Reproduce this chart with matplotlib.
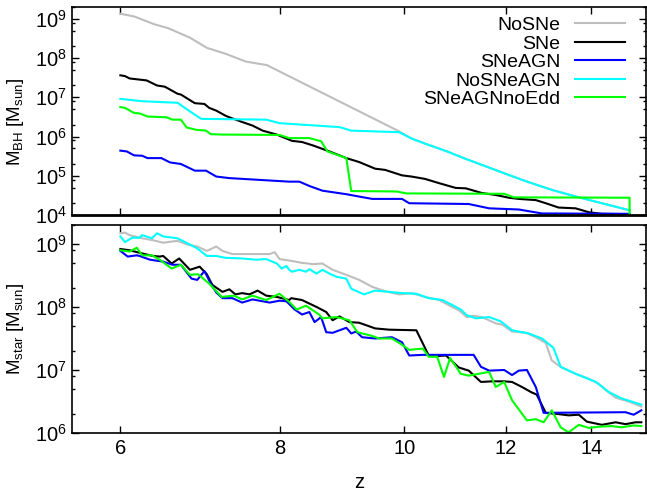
import numpy as np
import matplotlib
matplotlib.use("Agg")
import matplotlib.pyplot as plt
from matplotlib.ticker import FixedLocator, NullLocator, LogLocator, FixedFormatter

plt.rcParams['font.family'] = ['Liberation Sans', 'DejaVu Sans']
plt.rcParams['mathtext.fontset'] = 'custom'
plt.rcParams['mathtext.rm'] = 'Liberation Sans'
plt.rcParams['mathtext.it'] = 'Liberation Sans:italic'
plt.rcParams['font.size'] = 14

# black hole mass vs redshift (log10 of M_BH / M_sun)
z_bh_nosne = [6.00, 6.15, 6.38, 6.54, 6.80, 7.01, 7.25, 7.52, 7.81, 9.91, 10.13, 10.38,
              10.78, 11.17, 11.58, 12.07, 12.45, 13.04, 13.69, 14.27, 15.00]
lg_bh_nosne = [9.13, 9.06, 8.86, 8.76, 8.52, 8.26, 8.11, 7.91, 7.82, 6.13, 5.95, 5.82,
               5.63, 5.43, 5.24, 5.02, 4.86, 4.64, 4.45, 4.30, 4.12]

z_bh_sne = [6.00, 6.05, 6.10, 6.29, 6.41, 6.50, 6.65, 6.69, 6.86, 6.98, 7.04, 7.13, 7.25,
            7.30, 7.47, 7.61, 7.75, 7.95, 8.17, 8.32, 8.49, 8.74, 9.01, 9.22, 9.49, 9.66,
            9.96, 10.13, 10.38, 10.65, 10.97, 11.17, 11.50, 11.79, 12.07, 12.29, 12.67,
            12.90, 13.20, 13.61, 13.94, 14.27, 15.00]
lg_bh_sne = [7.56, 7.54, 7.48, 7.43, 7.30, 7.27, 7.09, 7.07, 6.85, 6.83, 6.73, 6.66, 6.53,
             6.49, 6.37, 6.28, 6.15, 6.05, 5.89, 5.86, 5.77, 5.62, 5.45, 5.35, 5.18, 5.15,
             5.01, 4.98, 4.92, 4.81, 4.69, 4.68, 4.56, 4.51, 4.44, 4.41, 4.38,
             4.30, 4.19, 4.17, 4.07, 4.03, 4.02]

z_bh_sneagn = [6.00, 6.07, 6.15, 6.24, 6.30, 6.46, 6.56, 6.69, 6.86, 7.00, 7.13, 7.30, 8.13,
               8.28, 8.43, 8.63, 9.01, 9.22, 9.44, 9.96, 10.09, 11.23, 11.65, 12.29, 12.81, 15.00]
lg_bh_sneagn = [5.64, 5.62, 5.52, 5.51, 5.45, 5.45, 5.34, 5.30, 5.13, 5.13, 4.98, 4.94, 4.85,
                4.85, 4.74, 4.62, 4.53, 4.47, 4.41, 4.41, 4.30, 4.28, 4.17, 4.14, 4.04, 4.03]

z_bh_nosneagn = [6.00, 6.24, 6.65, 6.80, 6.94, 7.80, 7.99, 8.90, 9.09, 9.91, 10.13, 10.38,
                 10.78, 11.17, 11.58, 12.07, 12.45, 13.04, 13.69, 14.27, 15.00]
lg_bh_nosneagn = [6.96, 6.90, 6.86, 6.64, 6.45, 6.43, 6.34, 6.24, 6.15, 6.11, 5.95, 5.82,
                  5.63, 5.43, 5.24, 5.02, 4.86, 4.64, 4.45, 4.30, 4.12]

z_bh_noedd = [6.00, 6.05, 6.15, 6.21, 6.30, 6.52, 6.59, 6.69, 6.76, 6.88, 7.00, 7.06, 7.21,
              7.99, 8.13, 8.43, 8.61, 8.71, 9.01, 9.09, 9.86, 10.04, 11.97, 12.18, 15.00, 15.00]
lg_bh_noedd = [6.75, 6.73, 6.60, 6.59, 6.51, 6.49, 6.43, 6.43, 6.23, 6.17, 6.15, 6.06, 6.05,
               6.04, 5.96, 5.96, 5.88, 5.62, 5.45, 4.61, 4.60, 4.55, 4.54, 4.45, 4.44, 4.02]

# stellar mass vs redshift (log10 of M_star / M_sun)
z_st_nosne = [6.00, 6.05, 6.10, 6.24, 6.36, 6.48, 6.65, 6.77, 6.89, 7.01, 7.13, 7.21, 7.34,
              7.85, 7.92, 7.99, 8.17, 8.32, 8.49, 8.63, 8.79, 9.01, 9.22, 9.44, 9.66, 9.91,
              10.13, 10.38, 10.65, 10.90, 11.03, 11.19, 11.33, 11.50, 11.79, 11.93, 12.14,
              12.45, 12.67, 12.90, 13.04, 13.27, 13.61, 13.94, 14.19, 14.37, 14.63, 14.97, 15.32]
lg_st_nosne = [9.17, 9.18, 9.14, 9.09, 9.06, 9.02, 9.05, 8.99, 8.96, 8.89, 8.96, 8.89, 8.84,
               8.84, 8.87, 8.76, 8.73, 8.70, 8.68, 8.69, 8.59, 8.51, 8.43, 8.32, 8.25, 8.20,
               8.22, 8.16, 8.11, 8.00, 7.95, 7.84, 7.86, 7.84, 7.74, 7.72, 7.61,
               7.59, 7.52, 7.43, 7.15, 7.04, 6.94, 6.86, 6.78, 6.68, 6.56, 6.50, 6.42]

z_st_sne = [6.00, 6.10, 6.24, 6.36, 6.44, 6.48, 6.58, 6.67, 6.80, 6.92, 7.01, 7.08, 7.21,
            7.30, 7.38, 7.47, 7.57, 7.68, 7.80, 7.95, 8.13, 8.16, 8.32, 8.54, 8.69, 8.79,
            8.90, 9.06, 9.22, 9.49, 9.73, 10.22, 10.45, 10.59, 10.78, 11.03, 11.23, 11.48,
            11.71, 11.97, 12.14, 12.36, 12.56, 12.69, 12.90, 13.20, 13.44, 13.69, 13.89,
            14.27, 14.63, 14.89, 15.16, 15.32]
lg_st_sne = [8.92, 8.90, 8.85, 8.81, 8.80, 8.81, 8.69, 8.77, 8.59, 8.64, 8.52, 8.35, 8.24,
             8.28, 8.20, 8.22, 8.20, 8.26, 8.18, 8.16, 8.11, 8.14, 8.11, 8.00, 7.92, 7.79,
             7.85, 7.76, 7.75, 7.66, 7.64, 7.63, 7.23, 7.22, 7.23, 7.04, 6.99, 6.81,
             6.82, 6.82, 6.81, 6.73, 6.65, 6.61, 6.32, 6.30, 6.28, 6.29, 6.18,
             6.13, 6.17, 6.14, 6.17, 6.17]

z_st_sneagn = [6.00, 6.08, 6.18, 6.21, 6.33, 6.48, 6.59, 6.69, 6.82, 6.89, 6.98, 7.06, 7.13,
               7.21, 7.34, 7.47, 7.61, 7.85, 7.99, 8.09, 8.21, 8.32, 8.43, 8.51, 8.61, 8.69,
               8.79, 9.01, 9.09, 9.17, 9.27, 9.49, 9.78, 9.96, 10.09, 10.34, 11.33, 11.48,
               11.65, 11.97, 12.14, 12.29, 12.47, 12.67, 12.85, 14.89, 15.11, 15.32]
lg_st_sneagn = [8.89, 8.80, 8.82, 8.81, 8.75, 8.72, 8.67, 8.67, 8.45, 8.43, 8.57, 8.37, 8.23,
                8.14, 8.14, 8.07, 8.12, 8.07, 8.10, 8.09, 7.96, 7.88, 7.92, 7.76, 7.84, 7.60,
                7.59, 7.67, 7.58, 7.61, 7.52, 7.50, 7.52, 7.44, 7.23, 7.24, 7.24, 7.05,
                6.99, 7.00, 6.92, 6.99, 7.00, 6.73, 6.32, 6.33, 6.29, 6.36]

z_st_nosneagn = [6.00, 6.05, 6.13, 6.21, 6.24, 6.35, 6.41, 6.48, 6.65, 6.77, 6.89, 7.01, 7.13,
                 7.25, 7.47, 7.66, 7.80, 7.95, 8.02, 8.09, 8.13, 8.17, 8.28, 8.38, 8.43, 8.54,
                 8.63, 8.74, 8.85, 9.01, 9.09, 9.30, 9.49, 9.73, 9.96, 10.22, 10.45, 10.71,
                 10.93, 11.07, 11.19, 11.37, 11.65, 11.90, 12.14, 12.51, 12.81, 13.08, 13.25,
                 13.61, 14.12, 14.45, 14.78, 15.32]
lg_st_nosneagn = [9.12, 9.03, 9.10, 9.10, 9.14, 9.09, 9.17, 9.12, 9.09, 9.01, 8.93, 8.81, 8.81,
                  8.78, 8.77, 8.75, 8.76, 8.69, 8.61, 8.65, 8.59, 8.56, 8.59, 8.56, 8.60, 8.53,
                  8.59, 8.53, 8.48, 8.45, 8.29, 8.20, 8.26, 8.24, 8.22, 8.21, 8.14, 8.11,
                  8.02, 7.96, 7.87, 7.82, 7.84, 7.77, 7.63, 7.58, 7.50, 7.35, 7.05,
                  6.94, 6.81, 6.65, 6.55, 6.45]

z_st_noedd = [6.00, 6.10, 6.18, 6.24, 6.35, 6.44, 6.58, 6.69, 6.80, 6.90, 7.04, 7.20, 7.36,
              7.47, 7.61, 7.80, 7.99, 8.13, 8.24, 8.38, 8.58, 8.63, 8.85, 9.06, 9.19, 9.44,
              9.56, 9.78, 9.96, 10.09, 10.34, 10.45, 10.61, 10.74, 10.86, 11.07, 11.23, 11.65,
              11.79, 11.97, 12.14, 12.47, 12.67, 12.85, 13.04, 13.25, 13.44, 13.69, 13.94,
              14.19, 14.53, 14.78, 15.11, 15.32]
lg_st_noedd = [8.90, 8.88, 8.94, 8.82, 8.82, 8.75, 8.61, 8.67, 8.51, 8.52, 8.37, 8.16, 8.18,
               8.12, 8.18, 8.11, 8.21, 8.08, 7.96, 8.02, 7.88, 7.82, 7.84, 7.79, 7.60, 7.54,
               7.50, 7.50, 7.40, 7.32, 7.34, 7.21, 7.21, 6.89, 7.19, 6.94, 6.91, 6.97,
               6.73, 6.81, 6.52, 6.20, 6.22, 6.17, 6.36, 6.09, 6.01, 6.13, 6.08,
               6.10, 6.11, 6.09, 6.12, 6.11]

labels = ['NoSNe', 'SNe', 'SNeAGN', 'NoSNeAGN', 'SNeAGNnoEdd']
colors = ['#bebebe', '#000000', '#0000ff', '#00ffff', '#00ff00']
z_ticks = [6, 8, 10, 12, 14]

bh_runs = [(z_bh_nosne, lg_bh_nosne), (z_bh_sne, lg_bh_sne), (z_bh_sneagn, lg_bh_sneagn),
           (z_bh_nosneagn, lg_bh_nosneagn), (z_bh_noedd, lg_bh_noedd)]
st_runs = [(z_st_nosne, lg_st_nosne), (z_st_sne, lg_st_sne), (z_st_sneagn, lg_st_sneagn),
           (z_st_nosneagn, lg_st_nosneagn), (z_st_noedd, lg_st_noedd)]


def style_axes(ax, ymin, ymax):
    ax.set_xscale('log')
    ax.set_yscale('log')
    ax.set_xlim(5.5, 15.45)
    ax.set_ylim(ymin, ymax)
    ax.xaxis.set_major_locator(FixedLocator(z_ticks))
    ax.xaxis.set_major_formatter(FixedFormatter([str(t) for t in z_ticks]))
    ax.xaxis.set_minor_locator(NullLocator())
    ax.yaxis.set_major_locator(LogLocator(base=10, numticks=20))
    ax.yaxis.set_minor_locator(LogLocator(base=10, subs=(2, 5, 8), numticks=20))
    ax.tick_params(which='both', direction='in', top=True, right=True, labelsize=14.5)
    ax.tick_params(which='major', length=5, width=1)
    ax.tick_params(which='minor', length=2.5, width=1)
    ax.tick_params(axis='x', pad=4)
    for sp in ax.spines.values():
        sp.set_linewidth(1.2)


fig = plt.figure(figsize=(6.47, 4.93), dpi=100)
ax_bh = fig.add_axes([0.1113, 0.5639, 0.8872, 0.4219])
ax_st = fig.add_axes([0.1113, 0.1217, 0.8872, 0.4219])

for (z, lg), lab, col in zip(bh_runs, labels, colors):
    ax_bh.plot(z, 10 ** np.array(lg), color=col, lw=1.5, label=lab)
for (z, lg), col in zip(st_runs, colors):
    ax_st.plot(z, 10 ** np.array(lg), color=col, lw=1.5)

style_axes(ax_bh, 1e4, 2e9)
style_axes(ax_st, 1e6, 2e9)
ax_bh.tick_params(axis='x', labelbottom=False)
ax_bh.spines['bottom'].set_linewidth(2.0)

ax_bh.set_ylabel(r'M$_{\mathrm{BH}}$ [M$_{\mathrm{sun}}$]', fontsize=13.5)
ax_bh.yaxis.set_label_coords(-0.081, 0.45)
ax_st.set_ylabel(r'M$_{\mathrm{star}}$ [M$_{\mathrm{sun}}$]', fontsize=13.5)
ax_st.yaxis.set_label_coords(-0.081, 0.5)
ax_st.set_xlabel('z', fontsize=14.5, labelpad=11)

ax_bh.legend(loc='upper right', bbox_to_anchor=(0.963, 0.955), frameon=False,
             markerfirst=False, handlelength=2.58, handletextpad=0.72,
             labelspacing=0.05, borderpad=0, borderaxespad=0, fontsize=14)

fig.savefig('out.png', dpi=100)
